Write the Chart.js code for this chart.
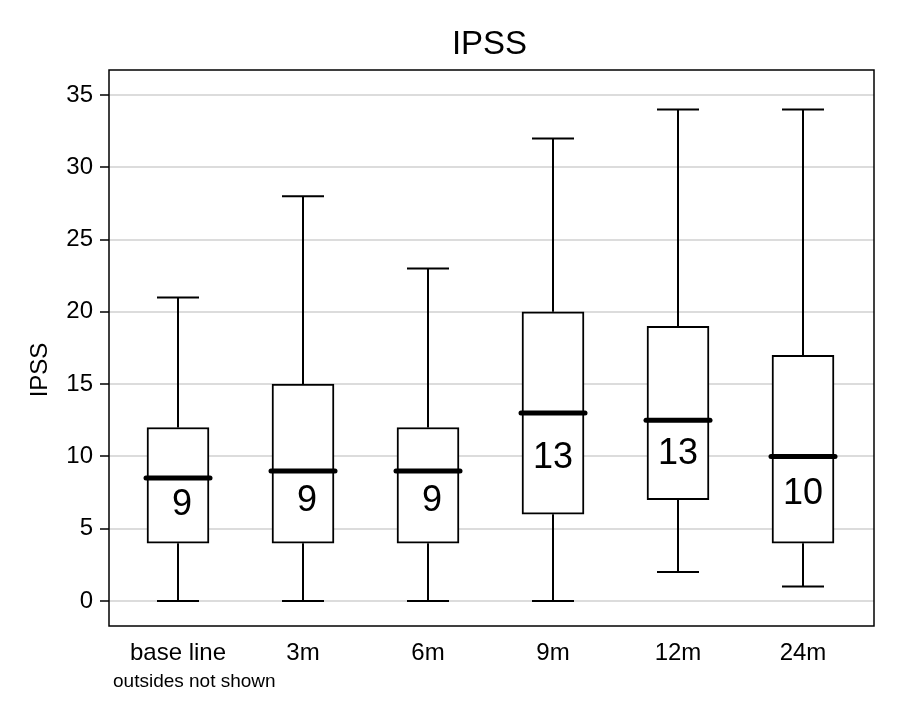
<!DOCTYPE html>
<html lang="en">
<head>
<meta charset="UTF-8">
<title>IPSS</title>
<script src="https://cdn.jsdelivr.net/npm/chart.js@4.4.1/dist/chart.umd.min.js"></script>
<style>
body { margin: 0; background: #fff; }
#chartStyle { width: 900px; height: 720px; }
</style>
</head>
<body>
<div id="chartStyle"><canvas id="chart"></canvas></div>
<script type="text/javascript">
// box plot values
const groups = ['base line', '3m', '6m', '9m', '12m', '24m'];
const lowWhisker = [0, 0, 0, 0, 2, 1];
const quart1 = [4, 4, 4, 6, 7, 4];
const medians = [8.5, 9, 9, 13, 12.5, 10];
const quart3 = [12, 15, 12, 20, 19, 17];
const highWhisker = [21, 28, 23, 32, 34, 34];
const medianText = ['9', '9', '9', '13', '13', '10'];
const yTicks = [0, 5, 10, 15, 20, 25, 30, 35];

const fontName = '"Liberation Sans", Arial, sans-serif';

const boxData = groups.map((g, i) => ({ x: i, y: [quart1[i], quart3[i]] }));

// whiskers, medians, labels and the frame
const boxPlugin = {
	id: 'boxExtras',
	afterDatasetsDraw(chart) {
		const ctx = chart.ctx;
		const xs = chart.scales.x;
		const ys = chart.scales.y;
		const area = chart.chartArea;
		ctx.save();
		ctx.strokeStyle = '#000';
		ctx.lineCap = 'butt';
		groups.forEach((g, i) => {
			const x = xs.getPixelForValue(i);
			ctx.lineWidth = 2;
			ctx.beginPath();
			ctx.moveTo(x, ys.getPixelForValue(quart3[i]));
			ctx.lineTo(x, ys.getPixelForValue(highWhisker[i]));
			ctx.moveTo(x, ys.getPixelForValue(quart1[i]));
			ctx.lineTo(x, ys.getPixelForValue(lowWhisker[i]));
			ctx.moveTo(x - 21, ys.getPixelForValue(highWhisker[i]));
			ctx.lineTo(x + 21, ys.getPixelForValue(highWhisker[i]));
			ctx.moveTo(x - 21, ys.getPixelForValue(lowWhisker[i]));
			ctx.lineTo(x + 21, ys.getPixelForValue(lowWhisker[i]));
			ctx.stroke();

			const ym = ys.getPixelForValue(medians[i]);
			ctx.lineWidth = 5;
			ctx.lineCap = 'round';
			ctx.beginPath();
			ctx.moveTo(x - 32, ym);
			ctx.lineTo(x + 32, ym);
			ctx.stroke();
			ctx.lineCap = 'butt';

			const yq = ys.getPixelForValue(quart1[i]);
			ctx.fillStyle = '#000';
			ctx.font = '36px ' + fontName;
			ctx.textAlign = 'center';
			ctx.textBaseline = 'middle';
			ctx.fillText(medianText[i], x + (medianText[i].length == 1 ? 4 : 0), (ym + yq) / 2 - 6);
		});

		ctx.lineWidth = 1.5;
		ctx.strokeRect(area.left, area.top, area.right - area.left, area.bottom - area.top);

		ctx.fillStyle = '#000';
		ctx.font = '33px ' + fontName;
		ctx.textAlign = 'center';
		ctx.textBaseline = 'middle';
		ctx.fillText('IPSS', (area.left + area.right) / 2 - 2, 45);

		ctx.font = '19px ' + fontName;
		ctx.textAlign = 'left';
		ctx.textBaseline = 'alphabetic';
		ctx.fillText('outsides not shown', 113, 687);

		ctx.translate(40, 370);
		ctx.rotate(-Math.PI / 2);
		ctx.font = '24px ' + fontName;
		ctx.textAlign = 'center';
		ctx.textBaseline = 'middle';
		ctx.fillText('IPSS', 0, 0);
		ctx.restore();
	}
};

const config = {
	type: 'bar',
	data: {
		datasets: [{
			label: 'IPSS',
			data: boxData,
			backgroundColor: '#ffffff',
			borderColor: '#000000',
			borderWidth: 2,
			borderSkipped: false,
			barThickness: 62
		}]
	},
	options: {
		responsive: false,
		animation: false,
		layout: { padding: { top: 70, right: 26, left: 0, bottom: 0 } },
		plugins: {
			legend: { display: false },
			tooltip: { enabled: false },
			title: { display: false }
		},
		scales: {
			x: {
				type: 'linear',
				offset: false,
				min: -0.552,
				max: 5.568,
				grid: { display: false, offset: false },
				border: { display: false },
				afterBuildTicks(scale) {
					scale.ticks = groups.map((g, i) => ({ value: i }));
				},
				afterFit(scale) { scale.height = 94; },
				ticks: {
					color: '#000',
					padding: 5,
					maxRotation: 0,
					autoSkip: false,
					font: { family: fontName, size: 24 },
					callback: (v) => groups[v]
				}
			},
			y: {
				min: -1.73,
				max: 36.73,
				afterBuildTicks(scale) {
					scale.ticks = yTicks.map(v => ({ value: v }));
				},
				afterFit(scale) { scale.width = 109; },
				grid: { color: '#dcdcdc', lineWidth: 2, tickColor: '#000', tickLength: 9, tickWidth: 1.5 },
				border: { display: false },
				ticks: {
					color: '#000',
					padding: 7,
					font: { family: fontName, size: 24 }
				}
			}
		}
	},
	plugins: [boxPlugin]
};

const canvas = document.getElementById('chart');
canvas.width = 900;
canvas.height = 720;
var myChart = new Chart(canvas, config);
</script>
</body>
</html>
